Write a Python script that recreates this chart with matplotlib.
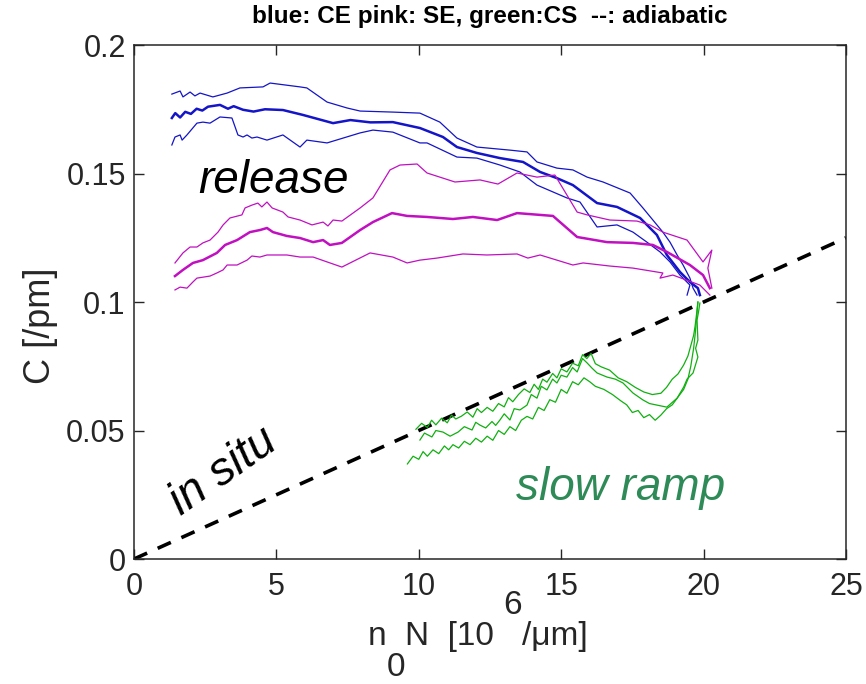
import matplotlib
matplotlib.use("Agg")
import matplotlib.pyplot as plt
import numpy as np

plt.rcParams['font.family'] = ['Liberation Sans', 'DejaVu Sans']

# CE (blue): mean and +/- band
ce_x = [1.33, 1.45, 1.62, 1.8, 2.0, 2.2, 2.4, 2.6, 3.02, 3.3, 3.5, 3.83, 4.2, 4.6, 5.23, 5.93,
        6.99, 7.6, 8.3, 9.09, 10.04, 10.85, 11.34, 12.04, 12.85,
        13.66, 14.26, 14.85, 15.41, 16.26, 16.96, 17.77, 18.36, 18.71, 19.17, 19.52, 19.8, 19.87]
ce_y = [0.1716, 0.1735, 0.1718, 0.1740, 0.1732, 0.1752, 0.1745, 0.1760, 0.1767, 0.1752, 0.1762,
        0.1748, 0.1741, 0.1750, 0.1747, 0.1728, 0.1696, 0.1708, 0.1699, 0.1700, 0.1677, 0.1642,
        0.1603, 0.1580, 0.1560, 0.1545, 0.1506, 0.1482, 0.1455, 0.1385, 0.1370, 0.1327, 0.1261,
        0.1183, 0.1117, 0.1078, 0.1054, 0.1027]
ce_hi_x = [1.33, 1.62, 1.72, 1.97, 2.14, 2.32, 2.77, 3.27, 3.72, 4.53, 4.78, 5.83, 6.07, 6.78,
           7.48, 7.94, 9.09, 10.04, 10.74, 11.34, 12.04, 13.2, 13.8, 14.15, 14.85, 15.41, 15.91,
           16.47, 17.42, 17.87, 18.22, 18.57, 18.82, 19.07, 19.28, 19.52, 19.63, 19.77]
ce_hi_y = [0.1809, 0.1821, 0.1798, 0.1817, 0.1802, 0.1813, 0.1798, 0.1813, 0.1833, 0.1837,
           0.1852, 0.1837, 0.1833, 0.1778, 0.1755, 0.1743, 0.1739, 0.1735, 0.1700, 0.1638,
           0.1603, 0.1591, 0.1584, 0.1545, 0.1521, 0.1514, 0.1486, 0.1467, 0.1424, 0.1366,
           0.1319, 0.1272, 0.1233, 0.1183, 0.1144, 0.1093, 0.1054, 0.1027]
ce_lo_x = [1.33, 1.44, 1.62, 1.69, 1.86, 2.21, 2.42, 2.67, 3.02, 3.44, 3.65, 3.83, 3.97, 4.14,
           4.32, 4.67, 5.23, 5.83, 6.07, 6.78, 7.94, 8.39, 9.09, 10.04, 10.29, 11.34, 12.04,
           12.85, 13.55, 14.15, 15.2, 15.66, 16.26, 16.96, 17.52, 18.01, 18.47, 18.82, 19.17,
           19.52, 19.42]
ce_lo_y = [0.1611, 0.1642, 0.1650, 0.1630, 0.1650, 0.1696, 0.1700, 0.1696, 0.1720, 0.1716,
           0.1650, 0.1642, 0.1650, 0.1638, 0.1642, 0.1630, 0.1650, 0.1603, 0.1630, 0.1619,
           0.1658, 0.1669, 0.1661, 0.1619, 0.1619, 0.1564, 0.1560, 0.1533, 0.1506, 0.1455,
           0.1405, 0.1389, 0.1292, 0.1300, 0.1272, 0.1233, 0.1195, 0.1156, 0.1105, 0.1066,
           0.1027]

# SE (pink)
se_x = [1.44, 1.72, 2.07, 2.42, 2.91, 3.2, 3.62, 4.07, 4.42, 4.67, 4.88, 5.37, 5.83, 6.29,
        6.64, 6.88, 7.3, 7.94, 8.39, 9.06, 9.59, 10.29, 11.2, 11.9, 12.75, 13.45, 14.71, 15.56,
        16.61, 17.52, 18.22, 18.71, 19.52, 19.98, 20.22]
se_y = [0.1101, 0.1125, 0.1152, 0.1163, 0.1191, 0.1222, 0.1241, 0.1272, 0.1280, 0.1288, 0.1272,
        0.1257, 0.1249, 0.1233, 0.1241, 0.1222, 0.1230, 0.1280, 0.1311, 0.1346, 0.1335, 0.1331,
        0.1323, 0.1331, 0.1319, 0.1346, 0.1335, 0.1253, 0.1233, 0.1230, 0.1222, 0.1195, 0.1144,
        0.1105, 0.1054]
se_hi_x = [1.44, 1.72, 1.97, 2.21, 2.42, 2.67, 2.95, 3.13, 3.37, 3.79, 3.9, 4.14, 4.35, 4.49,
           4.67, 4.85, 5.23, 5.41, 5.83, 6.25, 6.64, 6.81, 6.99, 7.3, 7.94, 8.39, 8.99, 9.34,
           9.94, 10.29, 11.27, 12.15, 12.78, 13.45, 14.15, 14.78, 15.56, 15.91, 16.71, 17.66,
           18.12, 18.57, 19.42, 19.98, 20.29, 20.15, 20.29]
se_hi_y = [0.1152, 0.1191, 0.1214, 0.1214, 0.1230, 0.1241, 0.1272, 0.1300, 0.1327, 0.1339,
           0.1366, 0.1377, 0.1385, 0.1370, 0.1389, 0.1366, 0.1350, 0.1331, 0.1319, 0.1300,
           0.1311, 0.1296, 0.1319, 0.1315, 0.1366, 0.1405, 0.1514, 0.1533, 0.1537, 0.1502,
           0.1467, 0.1475, 0.1459, 0.1502, 0.1486, 0.1494, 0.1350, 0.1339, 0.1319, 0.1315,
           0.1300, 0.1272, 0.1241, 0.1156, 0.1202, 0.1132, 0.1054]
se_lo_x = [1.44, 1.62, 1.86, 2.07, 2.21, 2.67, 2.91, 3.13, 3.27, 3.62, 3.97, 4.14, 4.42, 4.67,
           5.37, 5.83, 6.29, 6.78, 7.3, 8.29, 9.09, 9.59, 10.04, 10.64, 11.55, 12.39, 13.45,
           13.83, 14.26, 15.41, 15.77, 16.71, 17.52, 18.57, 18.47, 18.92, 19.87, 20.22]
se_lo_y = [0.1047, 0.1058, 0.1054, 0.1078, 0.1093, 0.1101, 0.1113, 0.1125, 0.1144, 0.1144,
           0.1163, 0.1179, 0.1175, 0.1183, 0.1183, 0.1175, 0.1175, 0.1156, 0.1136, 0.1191,
           0.1175, 0.1152, 0.1163, 0.1171, 0.1187, 0.1183, 0.1187, 0.1171, 0.1183, 0.1144,
           0.1152, 0.1140, 0.1132, 0.1113, 0.1093, 0.1105, 0.1066, 0.1027]

# CS (green) slow ramp
cs_x = [10.04, 10.2, 10.46, 10.6, 10.85, 11.1, 11.38, 11.6, 11.87, 12.0, 12.15, 12.35, 12.57,
        12.7, 12.85, 13.0, 13.2, 13.35, 13.55, 13.8, 13.95, 14.15, 14.3, 14.5, 14.7, 14.85,
        15.0, 15.2, 15.4, 15.56, 15.75, 15.91, 16.08, 16.26, 16.61, 16.9, 17.17, 17.52, 17.87,
        18.1, 18.36, 18.71, 19.07, 19.3, 19.42, 19.63, 19.8, 19.72, 19.8, 19.77, 19.82, 19.87]
cs_y = [0.0463, 0.0490, 0.0475, 0.0500, 0.0494, 0.0478, 0.0494, 0.0515, 0.0502, 0.0532, 0.0521,
        0.0510, 0.0535, 0.0520, 0.0541, 0.0565, 0.0541, 0.0585, 0.0580, 0.0599, 0.0640, 0.0626,
        0.0672, 0.0658, 0.0700, 0.0685, 0.0715, 0.0708, 0.0745, 0.0728, 0.0780, 0.0763, 0.0743,
        0.0724, 0.0708, 0.0700, 0.0685, 0.0646, 0.0619, 0.0605, 0.0599, 0.0591, 0.0626, 0.0669,
        0.0700, 0.0724, 0.0786, 0.0820, 0.0852, 0.0930, 0.0960, 0.0996]
cs_hi_x = [9.9, 10.1, 10.3, 10.45, 10.6, 10.8, 11.0, 11.15, 11.3, 11.5, 11.7, 11.9, 12.05,
           12.2, 12.4, 12.6, 12.8, 13.0, 13.15, 13.3, 13.5, 13.7, 13.9, 14.05, 14.2, 14.35,
           14.5, 14.7, 14.85, 15.0, 15.2, 15.4, 15.6, 15.75, 15.9, 16.05, 16.2, 16.4, 16.7,
           17.0, 17.3, 17.6, 17.9, 18.2, 18.5, 18.7, 18.9, 19.1, 19.3, 19.45, 19.55, 19.65,
           19.7, 19.75, 19.8]
cs_hi_y = [0.0505, 0.0528, 0.0512, 0.0540, 0.0522, 0.0548, 0.0530, 0.0560, 0.0545, 0.0556,
           0.0572, 0.0552, 0.0585, 0.0570, 0.0590, 0.0575, 0.0605, 0.0592, 0.0628, 0.0612,
           0.0640, 0.0662, 0.0648, 0.0680, 0.0660, 0.0700, 0.0688, 0.0722, 0.0705, 0.0740,
           0.0728, 0.0762, 0.0752, 0.0795, 0.0780, 0.0800, 0.0760, 0.0748, 0.0735, 0.0705,
           0.0690, 0.0668, 0.0650, 0.0640, 0.0645, 0.0668, 0.0700, 0.0720, 0.0755, 0.0790,
           0.0830, 0.0870, 0.0905, 0.0950, 0.1000]
cs_lo_x = [9.6, 9.8, 10.0, 10.15, 10.3, 10.5, 10.7, 10.9, 11.05, 11.2, 11.4, 11.6, 11.8, 12.0,
           12.2, 12.4, 12.6, 12.8, 13.0, 13.2, 13.4, 13.6, 13.8, 14.0, 14.2, 14.4, 14.6, 14.8,
           15.0, 15.2, 15.4, 15.6, 15.8, 16.0, 16.2, 16.5, 16.8, 17.1, 17.3, 17.5, 17.7, 17.9,
           18.1, 18.3, 18.5, 18.7, 18.9, 19.1, 19.3, 19.45, 19.55, 19.65, 19.7, 19.75, 19.8]
cs_lo_y = [0.0370, 0.0400, 0.0388, 0.0418, 0.0400, 0.0425, 0.0410, 0.0440, 0.0425, 0.0445,
           0.0432, 0.0458, 0.0445, 0.0470, 0.0455, 0.0478, 0.0462, 0.0500, 0.0485, 0.0515,
           0.0500, 0.0540, 0.0555, 0.0545, 0.0590, 0.0578, 0.0620, 0.0610, 0.0660, 0.0645,
           0.0690, 0.0678, 0.0705, 0.0690, 0.0672, 0.0660, 0.0640, 0.0615, 0.0600, 0.0570,
           0.0578, 0.0550, 0.0562, 0.0540, 0.0560, 0.0585, 0.0600, 0.0630, 0.0660, 0.0700,
           0.0750, 0.0820, 0.0870, 0.0930, 0.1000]

# adiabatic line C = n0N / 200
adi_x = [0, 25]
adi_y = [0, 0.125]

blue = '#1414c8'
pink = '#c010c0'
green = '#10b010'
ink = '#262626'

W, H = 866, 684
fig = plt.figure(figsize=(W / 100, H / 100), dpi=100)
ax = fig.add_axes([0.1547, 0.1827, 0.8222, 0.7515])

ax.plot(adi_x, adi_y, '--', color='black', lw=2.6, dashes=(4, 3.2))

for xs, ys, lw in [(ce_hi_x, ce_hi_y, 0.9), (ce_lo_x, ce_lo_y, 0.9), (ce_x, ce_y, 1.8)]:
    ax.plot(xs, ys, color=blue, lw=lw)
for xs, ys, lw in [(se_hi_x, se_hi_y, 0.9), (se_lo_x, se_lo_y, 0.9), (se_x, se_y, 1.8)]:
    ax.plot(xs, ys, color=pink, lw=lw)
for xs, ys in [(cs_hi_x, cs_hi_y), (cs_lo_x, cs_lo_y), (cs_x, cs_y)]:
    ax.plot(xs, ys, color=green, lw=0.9)

ax.text(4.9, 0.147, 'release', fontsize=33, style='italic', color='black',
        ha='center', va='center')
ax.text(17.1, 0.0275, 'slow ramp', fontsize=33, style='italic', color='#2e8b57',
        ha='center', va='center')
ax.text(3.15, 0.034, 'in situ', fontsize=33, style='italic', color='black',
        ha='center', va='center', rotation=35, rotation_mode='anchor')

ax.set_xlim(0, 25)
ax.set_ylim(0, 0.2)
ax.set_xticks([0, 5, 10, 15, 20, 25])
ax.set_yticks([0, 0.05, 0.1, 0.15, 0.2])
ax.set_yticklabels(['0', '0.05', '0.1', '0.15', '0.2'])
ax.tick_params(direction='in', top=True, right=True, length=7, width=1,
               labelsize=22, pad=6, colors=ink)
ax.tick_params(axis='x', pad=9)
for s in ax.spines.values():
    s.set_color(ink)
    s.set_linewidth(1.1)

ax.set_ylabel('C [/pm]', fontsize=26, color=ink)
ax.yaxis.set_label_coords(-0.107, 0.453)
ax.set_title('blue: CE pink: SE, green:CS  --: adiabatic', fontsize=17.5,
             fontweight='bold', pad=16)

# x label written piece by piece: full-size subscript 0 and raised 6
pieces = [('n', 0), ('0', -31), ('N  [10 ', 0), ('6', 31), ('/\u03bcm]', 0)]
renderer = fig.canvas.get_renderer()
base = 39  # baseline, pixels above bottom edge
arts = []
x = 0
for s, dy in pieces:
    t = fig.text(x / W, (base + dy) / H, s, fontsize=24, color=ink, va='baseline')
    arts.append(t)
    x = t.get_window_extent(renderer).x1
shift = 478 - x / 2
for t in arts:
    px, py = t.get_position()
    t.set_position((px + shift / W, py))

fig.savefig('out.png', dpi=100)
